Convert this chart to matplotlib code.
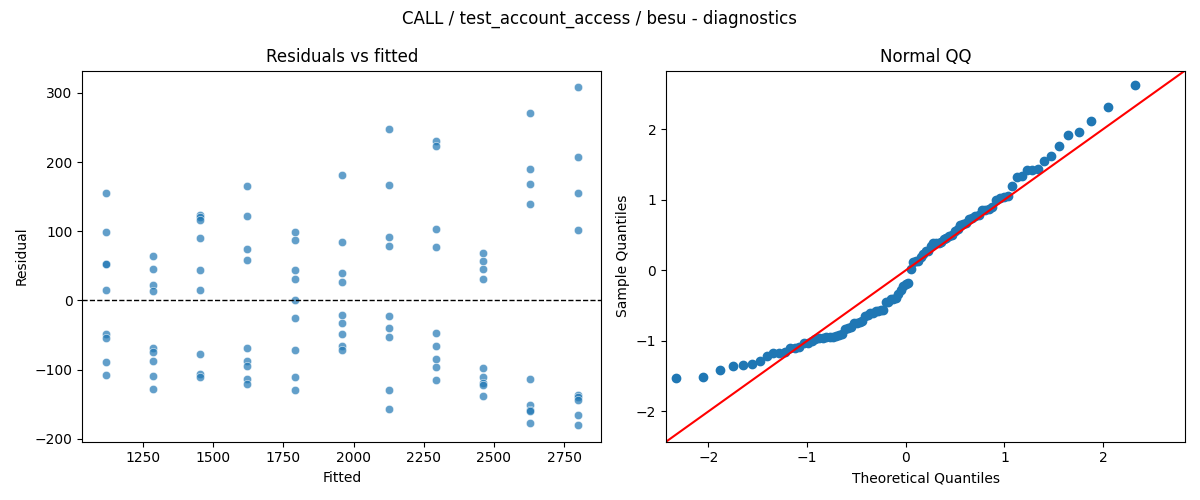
from statistics import NormalDist

import numpy as np
import pandas as pd
import matplotlib
matplotlib.use("Agg")
import matplotlib.pyplot as plt
import seaborn as sns

# fitted levels (one per group) and the residuals read for each group
fitted_levels = [1118, 1286, 1454, 1622, 1790, 1958, 2126, 2294, 2462, 2630, 2798]
residual_groups = [
    [156, 99, 53, 52, 15, -49, -54, -89, -108],
    [64, 45, 22, 13, -69, -75, -88, -110, -128],
    [123, 120, 117, 90, 44, 15, -77, -106, -111],
    [166, 122, 74, 58, -69, -87, -95, -114, -121],
    [99, 87, 44, 31, 1, -26, -72, -111, -130],
    [181, 84, 39, 26, -21, -33, -49, -66, -72],
    [248, 167, 91, 78, -23, -40, -53, -130, -157],
    [230, 224, 104, 77, -47, -66, -85, -96, -115],
    [68, 57, 46, 31, -98, -111, -119, -122, -138],
    [271, 190, 168, 139, -114, -151, -159, -160, -178],
    [308, 207, 155, 102, -137, -139, -144, -166, -180],
]

fitted = []
residuals = []
for lvl, grp in zip(fitted_levels, residual_groups):
    fitted += [lvl] * len(grp)
    residuals += grp
df = pd.DataFrame({"fitted": fitted, "resid": residuals})

# normal QQ of the standardized residuals
r = np.array(residuals, dtype=float)
sample_q = np.sort((r - r.mean()) / r.std())
n = len(sample_q)
theo_q = np.array([NormalDist().inv_cdf(i / (n + 1)) for i in range(1, n + 1)])

fig, axes = plt.subplots(1, 2, figsize=(12, 5), dpi=100)

# residuals vs fitted
ax = axes[0]
sns.scatterplot(data=df, x="fitted", y="resid", ax=ax, alpha=0.7)
ax.axhline(0, color="black", linestyle="--", linewidth=1)
ax.set_title("Residuals vs fitted")
ax.set_xlabel("Fitted")
ax.set_ylabel("Residual")

# qq plot
ax = axes[1]
ax.plot(theo_q, sample_q, marker="o", linestyle="none", color="C0")
ax.set_xlim(-2.43, 2.83)
ax.set_ylim(-2.43, 2.83)
ax.axline((0, 0), slope=1, color="red")
ax.set_title("Normal QQ")
ax.set_xlabel("Theoretical Quantiles")
ax.set_ylabel("Sample Quantiles")

fig.suptitle("CALL / test_account_access / besu - diagnostics")
plt.tight_layout()
plt.savefig("out.png")
